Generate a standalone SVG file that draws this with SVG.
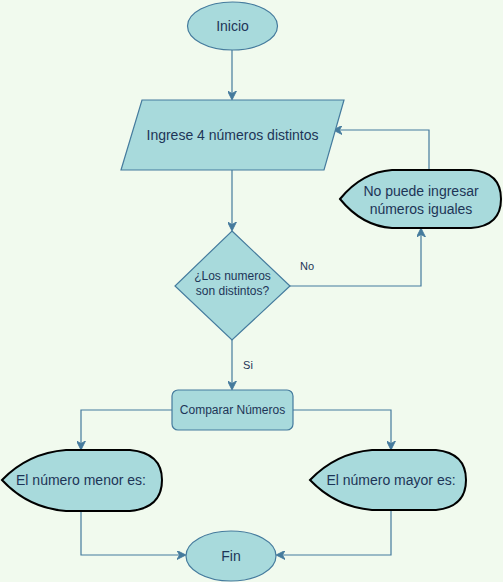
<svg xmlns="http://www.w3.org/2000/svg" width="503" height="582" viewBox="0 0 503 582">
  <style>
    .shape { fill: #A8DADC; stroke: #457B9D; stroke-width: 1.2; }
    .display { fill: #A8DADC; stroke: #000000; stroke-width: 2; }
    .label { font-family: "Liberation Sans", Arial, Helvetica, sans-serif; fill: #1D3557; text-anchor: middle; dominant-baseline: central; }
    .edge { fill: none; stroke: #457B9D; stroke-width: 1.2; }
  </style>
  <defs>
    <marker id="arrow" viewBox="0 0 10 10" refX="9" refY="5" markerWidth="9" markerHeight="9" markerUnits="userSpaceOnUse" orient="auto">
      <path d="M0,0 L10,5 L0,10 L3,5 Z" fill="#457B9D" stroke="#457B9D" stroke-width="1"/>
    </marker>
  </defs>
  <rect width="503" height="582" fill="#F1FAEE"/>

  <g id="connectors">
    <path class="edge" d="M232,50 L232,99" marker-end="url(#arrow)"/>
    <path class="edge" d="M232,170 L232,230" marker-end="url(#arrow)"/>
    <path class="edge" d="M290,286 L421,286 L421,229" marker-end="url(#arrow)"/>
    <path class="edge" d="M429,170 L429,130 L334,130" marker-end="url(#arrow)"/>
    <path class="edge" d="M232,340 L232,389" marker-end="url(#arrow)"/>
    <path class="edge" d="M172,410 L81,410 L81,449" marker-end="url(#arrow)"/>
    <path class="edge" d="M293,410 L391,410 L391,449" marker-end="url(#arrow)"/>
    <path class="edge" d="M81,511 L81,555 L185,555" marker-end="url(#arrow)"/>
    <path class="edge" d="M391,510 L391,555 L277,555" marker-end="url(#arrow)"/>
    <text class="label" x="307" y="266" font-size="11">No</text>
    <text class="label" x="248" y="365" font-size="11">Si</text>
  </g>

  <g id="inicio">
    <ellipse class="shape" cx="232.5" cy="26" rx="45" ry="24"/>
    <text class="label" x="232.5" y="26" font-size="14">Inicio</text>
  </g>

  <g id="ingrese">
    <polygon class="shape" points="142,100 344,100 324,170 121,170"/>
    <text class="label" x="232.5" y="135" font-size="14">Ingrese 4 números distintos</text>
  </g>

  <g id="no-puede">
    <path class="display" d="M340,199 Q362,172 392,170 L471,170 Q501,172 501,199 Q501,226 471,228 L392,228 Q362,226 340,199 Z"/>
    <text class="label" x="421" y="191" font-size="14">No puede ingresar</text>
    <text class="label" x="421" y="209" font-size="14">números iguales</text>
  </g>

  <g id="decision">
    <polygon class="shape" points="232,231 290,286 232,340 175,286"/>
    <text class="label" x="232.5" y="276" font-size="12">¿Los numeros</text>
    <text class="label" x="232.5" y="291" font-size="12">son distintos?</text>
  </g>

  <g id="comparar">
    <rect class="shape" x="172" y="390" width="121" height="40" rx="6" ry="6"/>
    <text class="label" x="232.5" y="410" font-size="12">Comparar Números</text>
  </g>

  <g id="menor">
    <path class="display" d="M2,480 Q28,453 66,450 L130,450 Q162,453 162,480 Q162,508 130,511 L66,511 Q28,508 2,480 Z"/>
    <text class="label" x="81" y="480" font-size="14">El número menor es:</text>
  </g>

  <g id="mayor">
    <path class="display" d="M310,480 Q336,453 372,450 L436,450 Q466,453 466,480 Q466,507 436,510 L372,510 Q336,507 310,480 Z"/>
    <text class="label" x="391" y="480" font-size="14">El número mayor es:</text>
  </g>

  <g id="fin">
    <ellipse class="shape" cx="231" cy="556" rx="45" ry="25"/>
    <text class="label" x="231" y="556" font-size="14">Fin</text>
  </g>
</svg>
